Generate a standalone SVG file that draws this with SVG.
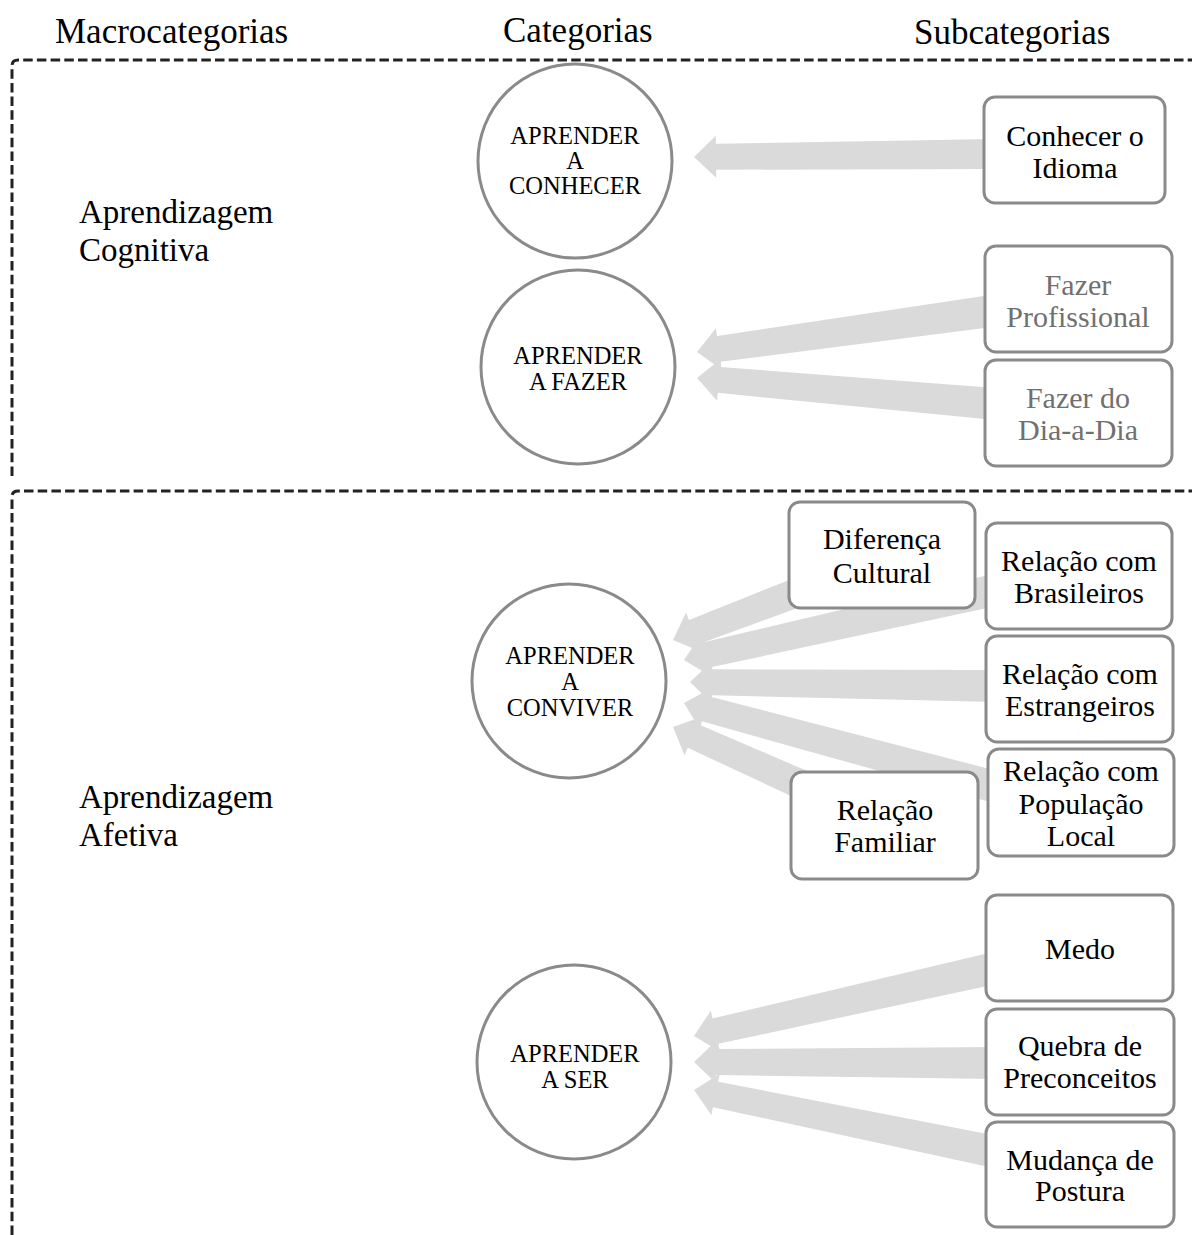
<svg xmlns="http://www.w3.org/2000/svg" width="1192" height="1235" viewBox="0 0 1192 1235">
<style>
.hdr{font-family:"Liberation Serif","Times New Roman",serif;font-size:35px;fill:#000}
.macro{font-family:"Liberation Serif","Times New Roman",serif;font-size:33px;fill:#000}
.cat{font-family:"Liberation Serif","Times New Roman",serif;font-size:24.5px;fill:#000;text-anchor:middle}
.sub{font-family:"Liberation Serif","Times New Roman",serif;font-size:30px;fill:#000;text-anchor:middle}
.subg{fill:#707070}
.circ{fill:#fff;stroke:#8a8a8a;stroke-width:3}
.box{fill:#fff;stroke:#8a8a8a;stroke-width:3}
.dash{fill:none;stroke:#222;stroke-width:3;stroke-dasharray:9.5 4.2}
.arr{fill:#dadada;stroke:none}
</style>
<rect width="1192" height="1235" fill="#fff"/>
<g id="headers">
<text class="hdr" x="55" y="43">Macrocategorias</text>
<text class="hdr" x="503" y="42">Categorias</text>
<text class="hdr" x="914" y="44">Subcategorias</text>
</g>
<g id="sections">
<path class="dash" d="M12,476 V66 Q12,60 18,60 H1192"/>
<path class="dash" d="M12,1235 V497 Q12,491 18,491 H1192"/>
<text class="macro" x="79" y="223">Aprendizagem</text>
<text class="macro" x="79" y="261">Cognitiva</text>
<text class="macro" x="79" y="808">Aprendizagem</text>
<text class="macro" x="79" y="846">Afetiva</text>
</g>
<g id="connectors">
<polygon class="arr" transform="translate(694,157) rotate(-0.59)" points="0,0 22,-21 22,-13 300,-15 300,15 22,13 22,21"/>
<polygon class="arr" transform="translate(697,352) rotate(-7.93)" points="0,0 22,-21 22,-13 300,-16 300,16 22,13 22,21"/>
<polygon class="arr" transform="translate(697,378) rotate(4.98)" points="0,0 22,-21 22,-13 298,-16 298,16 22,13 22,21"/>
<polygon class="arr" transform="translate(673,640) rotate(-20.94)" points="0,0 22,-21 22,-13 224,-16 224,16 22,13 22,21"/>
<polygon class="arr" transform="translate(684,660) rotate(-12.69)" points="0,0 22,-21 22,-13 318,-16 318,16 22,13 22,21"/>
<polygon class="arr" transform="translate(690,682) rotate(0.77)" points="0,0 22,-21 22,-13 306,-16 306,16 22,13 22,21"/>
<polygon class="arr" transform="translate(684,703) rotate(15.09)" points="0,0 22,-21 22,-13 325,-16 325,16 22,13 22,21"/>
<polygon class="arr" transform="translate(673,727) rotate(24.13)" points="0,0 22,-21 22,-13 232,-16 232,16 22,13 22,21"/>
<polygon class="arr" transform="translate(694,1036) rotate(-12.74)" points="0,0 22,-21 22,-13 309,-16 309,16 22,13 22,21"/>
<polygon class="arr" transform="translate(694,1062) rotate(0.2)" points="0,0 22,-21 22,-13 302,-16 302,16 22,13 22,21"/>
<polygon class="arr" transform="translate(694,1090) rotate(11.61)" points="0,0 22,-21 22,-13 308,-16 308,16 22,13 22,21"/>
</g>
<g id="cat-conhecer">
<circle class="circ" cx="575" cy="161" r="97"/>
<text class="cat" x="575" y="144">APRENDER</text>
<text class="cat" x="575" y="169">A</text>
<text class="cat" x="575" y="194">CONHECER</text>
</g>
<g id="cat-fazer">
<circle class="circ" cx="578" cy="367" r="97"/>
<text class="cat" x="578" y="364">APRENDER</text>
<text class="cat" x="578" y="390">A FAZER</text>
</g>
<g id="cat-conviver">
<circle class="circ" cx="569" cy="681" r="97"/>
<text class="cat" x="570" y="664">APRENDER</text>
<text class="cat" x="570" y="690">A</text>
<text class="cat" x="570" y="716">CONVIVER</text>
</g>
<g id="cat-ser">
<circle class="circ" cx="574" cy="1062" r="97"/>
<text class="cat" x="575" y="1062">APRENDER</text>
<text class="cat" x="575" y="1088">A SER</text>
</g>
<g id="sub-idioma">
<rect class="box" x="984" y="97" width="181" height="106" rx="11"/>
<text class="sub" x="1075" y="146">Conhecer o</text>
<text class="sub" x="1075" y="178">Idioma</text>
</g>
<g id="sub-profissional">
<rect class="box" x="985" y="246" width="187" height="106" rx="11"/>
<text class="sub subg" x="1078" y="295">Fazer</text>
<text class="sub subg" x="1078" y="327">Profissional</text>
</g>
<g id="sub-diaadia">
<rect class="box" x="985" y="360" width="187" height="106" rx="11"/>
<text class="sub subg" x="1078" y="408">Fazer do</text>
<text class="sub subg" x="1078" y="440">Dia-a-Dia</text>
</g>
<g id="sub-diferenca">
<rect class="box" x="789" y="502" width="186" height="106" rx="11"/>
<text class="sub" x="882" y="549">Diferença</text>
<text class="sub" x="882" y="583">Cultural</text>
</g>
<g id="sub-brasileiros">
<rect class="box" x="986" y="523" width="186" height="106" rx="11"/>
<text class="sub" x="1079" y="571">Relação com</text>
<text class="sub" x="1079" y="603">Brasileiros</text>
</g>
<g id="sub-estrangeiros">
<rect class="box" x="986" y="636" width="187" height="106" rx="11"/>
<text class="sub" x="1080" y="684">Relação com</text>
<text class="sub" x="1080" y="716">Estrangeiros</text>
</g>
<g id="sub-populacao">
<rect class="box" x="988" y="749" width="186" height="107" rx="11"/>
<text class="sub" x="1081" y="781">Relação com</text>
<text class="sub" x="1081" y="814">População</text>
<text class="sub" x="1081" y="846">Local</text>
</g>
<g id="sub-familiar">
<rect class="box" x="791" y="772" width="187" height="107" rx="11"/>
<text class="sub" x="885" y="820">Relação</text>
<text class="sub" x="885" y="852">Familiar</text>
</g>
<g id="sub-medo">
<rect class="box" x="986" y="895" width="187" height="106" rx="11"/>
<text class="sub" x="1080" y="959">Medo</text>
</g>
<g id="sub-quebra">
<rect class="box" x="986" y="1009" width="188" height="106" rx="11"/>
<text class="sub" x="1080" y="1056">Quebra de</text>
<text class="sub" x="1080" y="1088">Preconceitos</text>
</g>
<g id="sub-mudanca">
<rect class="box" x="986" y="1122" width="188" height="105" rx="11"/>
<text class="sub" x="1080" y="1170">Mudança de</text>
<text class="sub" x="1080" y="1201">Postura</text>
</g>
</svg>
